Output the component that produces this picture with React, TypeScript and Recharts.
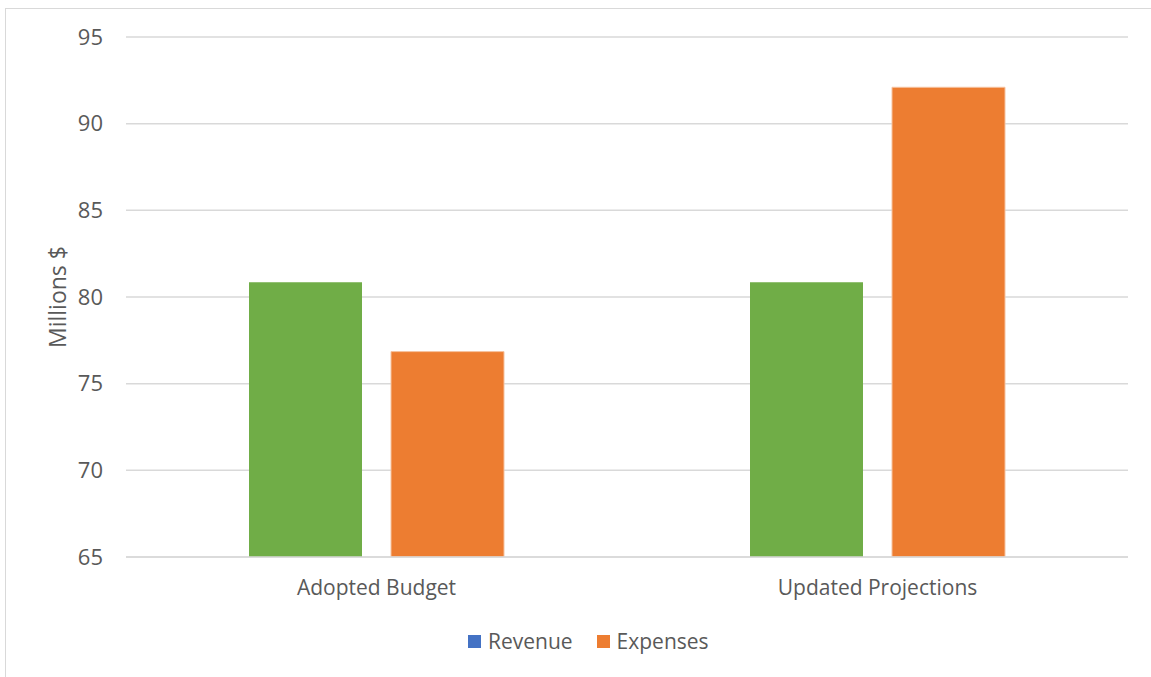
import React from 'react';
import { BarChart, Bar, XAxis, YAxis, CartesianGrid, Legend, Label } from 'recharts';

const categories = ['Adopted Budget', 'Updated Projections'];
const revenue = [80.85, 80.85];
const expenses = [76.85, 92.1];
const yTicks = [65, 70, 75, 80, 85, 90, 95];
const seriesNames = ['Revenue', 'Expenses'];
const legendColors = ['#4472C4', '#ED7D31'];

const data = categories.map((c, i) => ({ name: c, Revenue: revenue[i], Expenses: expenses[i] }));

const FONT = '"Open Sans", sans-serif';
const TEXT = '#595959';

const LegendContent = () => (
  <div style={{ display: 'flex', alignItems: 'center', fontFamily: FONT, fontSize: 21, color: TEXT, whiteSpace: 'nowrap' }}>
    {seriesNames.map((n, i) => (
      <div key={n} style={{ display: 'flex', alignItems: 'center', marginRight: i === 0 ? 24 : 0 }}>
        <span style={{ display: 'inline-block', width: 13, height: 13, background: legendColors[i], marginRight: 7 }} />
        <span>{n}</span>
      </div>
    ))}
  </div>
);

export default function App() {
  return (
    <div style={{ position: 'absolute', left: 0, top: 0, width: 1151, height: 677, overflow: 'hidden', background: '#fff' }}>
      <div style={{ position: 'absolute', left: 5, top: 8, width: 1300, height: 800, border: '1px solid #d9d9d9', boxSizing: 'border-box' }} />
      <div style={{ position: 'absolute', left: 0, top: 0 }}>
        <BarChart
          width={1151}
          height={677}
          data={data}
          margin={{ top: 37, right: 23, bottom: 90, left: 0 }}
          barCategoryGap={123}
          barGap={29}
        >
          <CartesianGrid vertical={false} stroke="#d9d9d9" strokeWidth={1.5} />
          <XAxis
            dataKey="name"
            height={30}
            axisLine={{ stroke: '#d9d9d9', strokeWidth: 1.5 }}
            tickLine={false}
            tickSize={0}
            tickMargin={23}
            tick={{ fill: TEXT, fontSize: 21, fontFamily: FONT }}
          />
          <YAxis
            width={126}
            domain={[65, 95]}
            ticks={yTicks}
            allowDataOverflow
            axisLine={false}
            tickLine={false}
            tickSize={0}
            tickMargin={23}
            tick={{ fill: TEXT, fontSize: 22, fontFamily: FONT }}
          >
            <Label value="Millions $" angle={-90} position="center" dx={-5} style={{ fill: TEXT, fontSize: 23, fontFamily: FONT }} />
          </YAxis>
          <Legend
            verticalAlign="middle"
            align="center"
            layout="horizontal"
            content={<LegendContent />}
            wrapperStyle={{ position: 'absolute', left: 468, top: 627, width: 320, height: 30 }}
          />
          <Bar dataKey="Revenue" fill="#70AD47" isAnimationActive={false} />
          <Bar dataKey="Expenses" fill="#ED7D31" stroke="#F6C3A0" strokeWidth={1} isAnimationActive={false} />
        </BarChart>
      </div>
    </div>
  );
}
